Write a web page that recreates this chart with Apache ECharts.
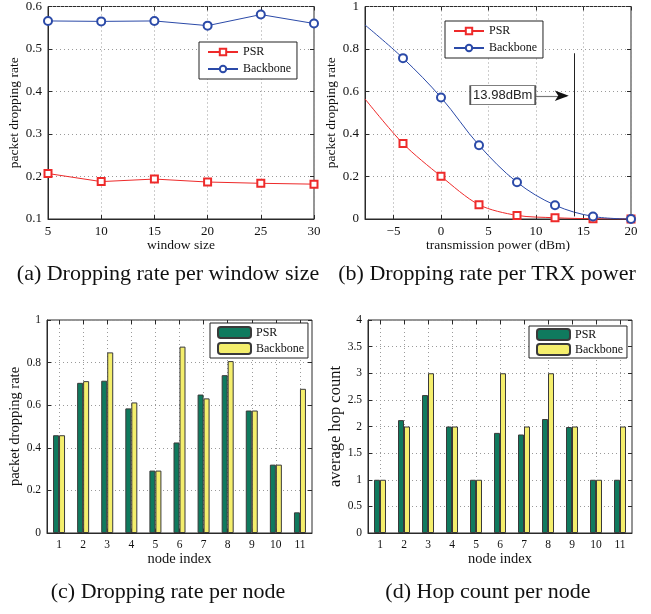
<!DOCTYPE html>
<html><head><meta charset="utf-8">
<script src="https://cdn.jsdelivr.net/npm/echarts@6/dist/echarts.min.js"></script>
<style>html,body{margin:0;padding:0;background:#fff}#c{width:651px;height:614px}</style>
</head><body><div id="c"></div>
<script>
// ---- data ----
const windowSizes = [5, 10, 15, 20, 25, 30];
const psrByWindow = [0.207, 0.188, 0.194, 0.187, 0.184, 0.182];
const backboneByWindow = [0.566, 0.565, 0.566, 0.555, 0.581, 0.560];

const txPower = [-8, -4, 0, 4, 8, 12, 16, 20];
const psrByPower = [0.565, 0.355, 0.201, 0.067, 0.017, 0.006, 0.001, 0];
const backboneByPower = [0.913, 0.757, 0.572, 0.347, 0.173, 0.065, 0.012, 0];
const powerTicks = [-5, 0, 5, 10, 15, 20];
const thresholdPower = 13.98;
const thresholdLabel = '13.98dBm';

const nodes = ['1', '2', '3', '4', '5', '6', '7', '8', '9', '10', '11'];
const psrDropByNode = [0.459, 0.705, 0.715, 0.585, 0.293, 0.425, 0.650, 0.741, 0.575, 0.321, 0.097];
const backboneDropByNode = [0.459, 0.713, 0.848, 0.613, 0.293, 0.875, 0.632, 0.807, 0.575, 0.321, 0.677];
const psrHopByNode = [1.0, 2.12, 2.59, 2.0, 1.0, 1.88, 1.85, 2.14, 1.99, 1.0, 1.0];
const backboneHopByNode = [1, 2, 3, 2, 1, 3, 2, 3, 2, 1, 2];

const captions = ['(a) Dropping rate per window size', '(b) Dropping rate per TRX power',
                  '(c) Dropping rate per node', '(d) Hop count per node'];

// ---- styling ----
const SERIF = 'Liberation Serif';
const AX = '#2a2a2a';
const RED = '#ee2a2a';
const BLUE = '#2b4aa8';
const GREEN = '#0f7a5e';
const YELLOW = '#f4ee6c';
const gridSplit = { show: true, lineStyle: { color: '#9a9a9a', type: [1, 3], width: 1 } };

const chart = echarts.init(document.getElementById('c'));

function mainValueAxis(grid, min, max, interval, fs, name, nameGap, nameFs, extra) {
  return Object.assign({
    type: 'value', gridIndex: grid, min, max, interval,
    name, nameLocation: 'middle', nameGap,
    nameTextStyle: { fontFamily: SERIF, fontSize: nameFs, color: '#111' },
    axisLine: { show: true, onZero: false, lineStyle: { color: AX } },
    axisTick: { show: true, inside: true, length: 4, lineStyle: { color: AX } },
    axisLabel: { fontFamily: SERIF, fontSize: fs, color: '#111', margin: 6 },
    splitLine: gridSplit
  }, extra || {});
}
function mirrorValueAxis(grid, min, max, interval, pos, extra) {
  return Object.assign({
    type: 'value', gridIndex: grid, min, max, interval, position: pos,
    axisLine: { show: false, onZero: false },
    axisTick: { show: true, inside: true, length: 4, lineStyle: { color: AX } },
    axisLabel: { show: false }, splitLine: { show: false }
  }, extra || {});
}
function mainCatAxis(grid, fs, name, nameGap, nameFs) {
  return {
    type: 'category', gridIndex: grid, data: nodes, boundaryGap: true,
    name, nameLocation: 'middle', nameGap,
    nameTextStyle: { fontFamily: SERIF, fontSize: nameFs, color: '#111' },
    axisLine: { show: true, onZero: false, lineStyle: { color: AX } },
    axisTick: { show: true, inside: true, length: 4, alignWithLabel: true, lineStyle: { color: AX } },
    axisLabel: { fontFamily: SERIF, fontSize: fs, color: '#111', margin: 6 },
    splitLine: Object.assign({ alignWithLabel: true }, gridSplit)
  };
}
function mirrorCatAxis(grid) {
  return {
    type: 'category', gridIndex: grid, data: nodes, boundaryGap: true, position: 'top',
    axisLine: { show: false, onZero: false },
    axisTick: { show: true, inside: true, length: 4, alignWithLabel: true, lineStyle: { color: AX } },
    axisLabel: { show: false }, splitLine: { show: false }
  };
}
const minusFmt = v => String(v).replace('-', '\u2212');

const legendBase = {
  orient: 'vertical', backgroundColor: '#fff', borderColor: '#222', borderWidth: 1,
  textStyle: { fontFamily: SERIF, fontSize: 12, color: '#111' },
  formatter: n => n.replace(/ \(.\)$/, ''), selectedMode: false
};

function lineSeries(name, xIdx, data, color, symbol, smooth) {
  return {
    name, type: 'line', xAxisIndex: xIdx, yAxisIndex: xIdx, data, smooth: smooth || false,
    symbol, symbolSize: symbol === 'emptyCircle' ? 8 : 7,
    lineStyle: { color, width: 1 }, itemStyle: { color, borderWidth: 1 },
    animation: false
  };
}
function barSeries(name, idx, data, color) {
  return {
    name, type: 'bar', xAxisIndex: idx, yAxisIndex: idx, data, barWidth: 6, barGap: '0%',
    itemStyle: { color, borderColor: '#3a3a3a', borderWidth: 1 }, animation: false
  };
}

const powerBackboneData = txPower.map((x, i) => i === 0 ? { value: [x, backboneByPower[i]], symbol: 'none' } : [x, backboneByPower[i]]);
const powerPsrData = txPower.map((x, i) => i === 0 ? { value: [x, psrByPower[i]], symbol: 'none' } : [x, psrByPower[i]]);

const backbonePowerSeries = lineSeries('Backbone (b)', 1, powerBackboneData, BLUE, 'emptyCircle', 0.35);
backbonePowerSeries.markLine = {
  silent: true, animation: false, symbol: 'none', label: { show: false },
  lineStyle: { color: '#222', width: 1, type: 'solid' },
  data: [
    [{ coord: [thresholdPower, 0.012] }, { coord: [thresholdPower, 0.78] }],
    [{ coord: [9.9, 0.58], lineStyle: { color: '#777', width: 1.2 } }, { coord: [13.2, 0.58] }]
  ]
};
backbonePowerSeries.markPoint = {
  silent: true, animation: false,
  data: [
    { coord: [6.5, 0.583], symbol: 'rect', symbolSize: [65, 19],
      itemStyle: { color: '#fff', borderColor: '#555', borderWidth: 1 },
      label: { show: true, position: 'inside', formatter: thresholdLabel, fontFamily: 'Liberation Sans', fontSize: 13, color: '#222' } },
    { coord: [13.45, 0.58], symbol: 'arrow', symbolRotate: -90, symbolSize: [8, 14],
      itemStyle: { color: '#111' }, label: { show: false } }
  ]
};

const option = {
  backgroundColor: '#fff',
  animation: false,
  title: [
    { text: captions[0], left: 168, top: 263 },
    { text: captions[1], left: 487, top: 263 },
    { text: captions[2], left: 168, top: 581 },
    { text: captions[3], left: 488, top: 581 }
  ].map(t => Object.assign(t, { textAlign: 'center', padding: 0,
    textStyle: { fontFamily: SERIF, fontSize: 22, fontWeight: 'normal', color: '#111' } })),
  grid: [
    { left: 48, top: 5, width: 266, height: 214 },
    { left: 365, top: 5, width: 266, height: 214 },
    { left: 47, top: 320, width: 265, height: 213 },
    { left: 368, top: 320, width: 264, height: 213 }
  ].map(g => Object.assign(g, { show: true, borderColor: AX, borderWidth: 1, backgroundColor: 'transparent' })),
  legend: [
    Object.assign({}, legendBase, { data: ['PSR (a)', 'Backbone (a)'], left: 199, top: 42, itemWidth: 30, itemHeight: 8, itemGap: 5, padding: [4, 6, 4, 8] }),
    Object.assign({}, legendBase, { data: ['PSR (b)', 'Backbone (b)'], left: 445, top: 21, itemWidth: 30, itemHeight: 8, itemGap: 5, padding: [4, 6, 4, 8] }),
    Object.assign({}, legendBase, { data: ['PSR (c)', 'Backbone (c)'], left: 210, top: 323, itemWidth: 33, itemHeight: 11, itemGap: 3, padding: [3, 4, 3, 7] }),
    Object.assign({}, legendBase, { data: ['PSR (d)', 'Backbone (d)'], left: 529, top: 326, itemWidth: 33, itemHeight: 11, itemGap: 2, padding: [2, 4, 2, 7] })
  ],
  xAxis: [
    mainValueAxis(0, 5, 30, 5, 13, 'window size', 19, 13.5),
    mainValueAxis(1, -8, 20, 5, 13, 'transmission power (dBm)', 19, 13.5, {
      axisTick: { show: true, inside: true, length: 4, customValues: powerTicks, lineStyle: { color: AX } },
      axisLabel: { fontFamily: SERIF, fontSize: 13, color: '#111', margin: 6, customValues: powerTicks, formatter: minusFmt }
    }),
    mainCatAxis(2, 11.5, 'node index', 18, 14.5),
    mainCatAxis(3, 11.5, 'node index', 18, 14.5),
    mirrorValueAxis(0, 5, 30, 5, 'top'),
    mirrorValueAxis(1, -8, 20, 5, 'top', {
      axisTick: { show: true, inside: true, length: 4, customValues: powerTicks, lineStyle: { color: AX } }
    }),
    mirrorCatAxis(2),
    mirrorCatAxis(3)
  ],
  yAxis: [
    mainValueAxis(0, 0.1, 0.6, 0.1, 13, 'packet dropping rate', 24, 13.5),
    mainValueAxis(1, 0, 1, 0.2, 13, 'packet dropping rate', 24, 13.5),
    mainValueAxis(2, 0, 1, 0.2, 11.5, 'packet dropping rate', 21, 14.5),
    mainValueAxis(3, 0, 4, 0.5, 11.5, 'average hop count', 23, 16.5),
    mirrorValueAxis(0, 0.1, 0.6, 0.1, 'right'),
    mirrorValueAxis(1, 0, 1, 0.2, 'right'),
    mirrorValueAxis(2, 0, 1, 0.2, 'right'),
    mirrorValueAxis(3, 0, 4, 0.5, 'right')
  ],
  series: [
    lineSeries('PSR (a)', 0, windowSizes.map((x, i) => [x, psrByWindow[i]]), RED, 'emptyRect'),
    lineSeries('Backbone (a)', 0, windowSizes.map((x, i) => [x, backboneByWindow[i]]), BLUE, 'emptyCircle'),
    lineSeries('PSR (b)', 1, powerPsrData, RED, 'emptyRect', 0.3),
    backbonePowerSeries,
    barSeries('PSR (c)', 2, psrDropByNode, GREEN),
    barSeries('Backbone (c)', 2, backboneDropByNode, YELLOW),
    barSeries('PSR (d)', 3, psrHopByNode, GREEN),
    barSeries('Backbone (d)', 3, backboneHopByNode, YELLOW)
  ]
};
chart.setOption(option);
</script>
</body></html>
